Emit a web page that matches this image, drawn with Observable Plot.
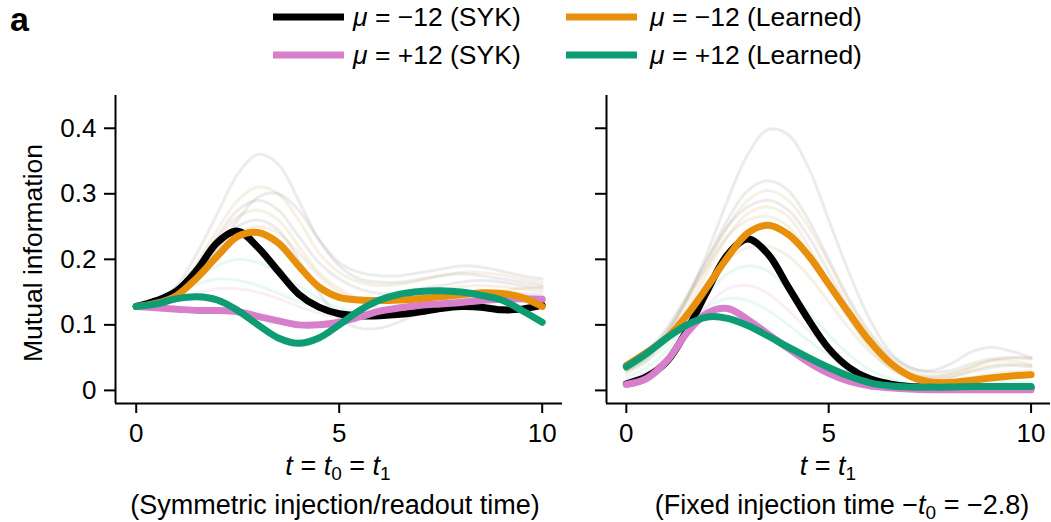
<!DOCTYPE html>
<html>
<head>
<meta charset="utf-8">
<script src="https://cdn.jsdelivr.net/npm/d3@7"></script>
<script src="https://cdn.jsdelivr.net/npm/@observablehq/plot@0.6"></script>
<style>
  html, body { margin: 0; padding: 0; background: #fff; }
  #root { position: relative; width: 1051px; height: 522px; overflow: hidden;
          font-family: "Liberation Sans", Arial, Helvetica, sans-serif; color: #000; }
  #overlay { pointer-events: none; }
</style>
</head>
<body>
<div id="root"></div>
<script>
// ---------- data ----------
const tGrid = [0, 0.5, 1, 1.5, 2, 2.5, 3, 3.5, 4, 4.5, 5, 5.5, 6, 6.5, 7, 7.5, 8, 8.5, 9, 9.5, 10];

const seriesNames = ["μ = −12 (SYK)", "μ = +12 (SYK)", "μ = −12 (Learned)", "μ = +12 (Learned)"];
const seriesColors = ["#000000", "#d77fca", "#e8900c", "#0e9c75"];

// Left panel: symmetric injection/readout time
const leftSykMinus    = [0.128, 0.137, 0.152, 0.184, 0.226, 0.243, 0.218, 0.182, 0.147, 0.127, 0.117, 0.114, 0.114, 0.116, 0.120, 0.125, 0.128, 0.127, 0.123, 0.124, 0.130];
const leftSykPlus     = [0.128, 0.126, 0.124, 0.122, 0.122, 0.120, 0.113, 0.106, 0.100, 0.100, 0.104, 0.112, 0.121, 0.126, 0.130, 0.132, 0.134, 0.137, 0.139, 0.140, 0.139];
const leftLearnMinus  = [0.128, 0.133, 0.145, 0.172, 0.205, 0.235, 0.241, 0.225, 0.190, 0.158, 0.142, 0.138, 0.137, 0.138, 0.140, 0.143, 0.146, 0.149, 0.148, 0.142, 0.128];
const leftLearnPlus   = [0.128, 0.132, 0.140, 0.143, 0.138, 0.122, 0.100, 0.080, 0.072, 0.080, 0.100, 0.122, 0.138, 0.147, 0.151, 0.152, 0.150, 0.145, 0.138, 0.122, 0.104];

// Right panel: fixed injection time -t0 = -2.8
const rightSykMinus   = [0.010, 0.021, 0.044, 0.092, 0.152, 0.207, 0.231, 0.208, 0.158, 0.108, 0.064, 0.035, 0.018, 0.010, 0.006, 0.005, 0.005, 0.004, 0.004, 0.004, 0.004];
const rightSykPlus    = [0.009, 0.018, 0.045, 0.088, 0.118, 0.125, 0.108, 0.086, 0.064, 0.043, 0.026, 0.014, 0.007, 0.004, 0.002, 0.001, 0.001, 0.001, 0.001, 0.001, 0.001];
const rightLearnMinus = [0.038, 0.058, 0.080, 0.115, 0.158, 0.203, 0.240, 0.252, 0.238, 0.206, 0.162, 0.118, 0.076, 0.043, 0.022, 0.013, 0.012, 0.015, 0.019, 0.022, 0.024];
const rightLearnPlus  = [0.036, 0.056, 0.080, 0.100, 0.112, 0.110, 0.099, 0.083, 0.066, 0.050, 0.035, 0.022, 0.012, 0.007, 0.005, 0.005, 0.005, 0.006, 0.006, 0.006, 0.006];

// faint ensemble curves (left)
const leftFaintA = [0.128, 0.135, 0.160, 0.210, 0.270, 0.330, 0.360, 0.345, 0.290, 0.230, 0.190, 0.170, 0.165, 0.165, 0.170, 0.175, 0.178, 0.175, 0.170, 0.165, 0.160];
const leftFaintB = [0.128, 0.134, 0.155, 0.195, 0.245, 0.290, 0.310, 0.300, 0.260, 0.210, 0.180, 0.165, 0.160, 0.162, 0.168, 0.175, 0.180, 0.180, 0.176, 0.170, 0.165];
const leftFaintC = [0.128, 0.133, 0.152, 0.190, 0.235, 0.275, 0.290, 0.275, 0.235, 0.195, 0.170, 0.155, 0.148, 0.150, 0.155, 0.160, 0.165, 0.168, 0.165, 0.160, 0.155];
const leftFaintD = [0.128, 0.133, 0.150, 0.185, 0.230, 0.265, 0.275, 0.260, 0.220, 0.180, 0.155, 0.140, 0.135, 0.138, 0.145, 0.152, 0.158, 0.160, 0.158, 0.155, 0.150];
const leftFaintE = [0.128, 0.132, 0.148, 0.180, 0.220, 0.250, 0.260, 0.245, 0.200, 0.150, 0.110, 0.095, 0.095, 0.105, 0.120, 0.135, 0.145, 0.150, 0.150, 0.148, 0.145];
const leftFaintF = [0.128, 0.132, 0.147, 0.175, 0.215, 0.260, 0.295, 0.300, 0.275, 0.230, 0.195, 0.180, 0.175, 0.175, 0.180, 0.185, 0.190, 0.188, 0.182, 0.175, 0.170];
const leftFaintG = [0.128, 0.133, 0.150, 0.180, 0.215, 0.240, 0.250, 0.240, 0.210, 0.175, 0.150, 0.135, 0.125, 0.120, 0.122, 0.130, 0.140, 0.148, 0.152, 0.155, 0.158];
const leftFaintH = [0.128, 0.135, 0.150, 0.170, 0.190, 0.200, 0.195, 0.180, 0.160, 0.140, 0.125, 0.120, 0.120, 0.125, 0.130, 0.135, 0.138, 0.140, 0.140, 0.138, 0.135];
const leftFaintI = [0.128, 0.135, 0.148, 0.162, 0.170, 0.168, 0.160, 0.148, 0.135, 0.125, 0.118, 0.118, 0.122, 0.130, 0.138, 0.145, 0.148, 0.148, 0.145, 0.140, 0.135];
const leftFaintJ = [0.128, 0.130, 0.138, 0.148, 0.155, 0.155, 0.150, 0.140, 0.128, 0.118, 0.112, 0.112, 0.118, 0.126, 0.133, 0.138, 0.140, 0.140, 0.138, 0.136, 0.135];

// faint ensemble curves (right)
const rightFaintA = [0.030, 0.050, 0.085, 0.140, 0.210, 0.290, 0.360, 0.398, 0.390, 0.340, 0.260, 0.180, 0.110, 0.060, 0.035, 0.030, 0.040, 0.058, 0.066, 0.060, 0.050];
const rightFaintB = [0.035, 0.055, 0.090, 0.140, 0.200, 0.260, 0.305, 0.320, 0.305, 0.260, 0.200, 0.140, 0.090, 0.055, 0.035, 0.028, 0.030, 0.040, 0.048, 0.050, 0.048];
const rightFaintC = [0.030, 0.050, 0.085, 0.135, 0.190, 0.250, 0.290, 0.305, 0.290, 0.250, 0.195, 0.135, 0.085, 0.050, 0.030, 0.022, 0.025, 0.035, 0.045, 0.045, 0.040];
const rightFaintD = [0.040, 0.060, 0.095, 0.145, 0.200, 0.250, 0.280, 0.290, 0.275, 0.235, 0.180, 0.125, 0.080, 0.045, 0.025, 0.018, 0.020, 0.028, 0.035, 0.038, 0.036];
const rightFaintE = [0.025, 0.045, 0.080, 0.125, 0.180, 0.235, 0.270, 0.280, 0.265, 0.220, 0.165, 0.110, 0.065, 0.035, 0.020, 0.015, 0.020, 0.030, 0.038, 0.040, 0.038];
const rightFaintF = [0.035, 0.055, 0.090, 0.140, 0.190, 0.235, 0.260, 0.265, 0.250, 0.210, 0.160, 0.110, 0.070, 0.040, 0.025, 0.020, 0.025, 0.035, 0.045, 0.050, 0.050];
const rightFaintG = [0.020, 0.035, 0.060, 0.100, 0.145, 0.178, 0.190, 0.182, 0.155, 0.120, 0.085, 0.055, 0.032, 0.018, 0.010, 0.008, 0.008, 0.010, 0.012, 0.013, 0.013];
const rightFaintH = [0.015, 0.028, 0.050, 0.090, 0.130, 0.155, 0.160, 0.148, 0.122, 0.092, 0.062, 0.038, 0.022, 0.012, 0.007, 0.005, 0.005, 0.006, 0.007, 0.008, 0.008];
const rightFaintI = [0.030, 0.045, 0.070, 0.100, 0.127, 0.140, 0.137, 0.122, 0.100, 0.076, 0.054, 0.036, 0.022, 0.013, 0.008, 0.006, 0.006, 0.007, 0.008, 0.008, 0.008];
const rightFaintJ = [0.030, 0.050, 0.080, 0.120, 0.165, 0.200, 0.218, 0.220, 0.205, 0.175, 0.135, 0.095, 0.060, 0.035, 0.020, 0.015, 0.015, 0.020, 0.025, 0.028, 0.030];

const faintColors = ["#8a8a8a", "#c9a060", "#6fd3bb", "#e39ad8"];

const xTickValues = [0, 5, 10];
const yTickValues = [0, 0.1, 0.2, 0.3, 0.4];
const yDomain = [-0.02, 0.45];
const leftXDomain = [-0.51, 10.5];
const rightXDomain = [-0.49, 10.48];

// ---------- helpers ----------
const FONT = '"Liberation Sans", Arial, Helvetica, sans-serif';
const FS = 26;

function rows(vals, id, color) {
  return tGrid.map((t, i) => ({t, v: vals[i], id, color}));
}

function panel({main, faint, xDomain, width, marginLeft, marginRight, showYLabels}) {
  const faintRows = faint.flatMap(([vals, c], k) => rows(vals, "f" + k, c));
  const mainRows = [0, 1, 2, 3].flatMap(k => rows(main[k], seriesNames[k], seriesColors[k]));
  return Plot.plot({
    width, height: 368,
    marginTop: 15, marginBottom: 45, marginLeft, marginRight,
    x: {domain: xDomain},
    y: {domain: yDomain},
    style: {fontFamily: FONT, fontSize: FS + "px", color: "#000", background: "transparent", overflow: "visible"},
    marks: [
      Plot.lineY(faintRows, {x: "t", y: "v", z: "id", stroke: "color", strokeOpacity: 0.16, strokeWidth: 3, curve: "catmull-rom"}),
      Plot.lineY(mainRows, {x: "t", y: "v", z: "id", stroke: "color", strokeWidth: 7, curve: "catmull-rom"}),
      Plot.axisX({ticks: xTickValues, tickSize: 10, tickPadding: 10, strokeWidth: 2, label: null, tickFormat: d => String(d)}),
      Plot.axisY({ticks: yTickValues, tickSize: 11, tickPadding: 8, strokeWidth: 2, label: null,
                  tickFormat: showYLabels ? (d => String(d)) : (() => "")}),
      Plot.ruleX([xDomain[0]], {stroke: "#000", strokeWidth: 2}),
      Plot.ruleY([yDomain[0]], {stroke: "#000", strokeWidth: 2})
    ]
  });
}

const root = document.getElementById("root");

const left = panel({
  main: [leftSykMinus, leftSykPlus, leftLearnMinus, leftLearnPlus],
  faint: [[leftFaintA, faintColors[0]], [leftFaintB, faintColors[1]], [leftFaintC, faintColors[0]], [leftFaintD, faintColors[1]],
          [leftFaintE, faintColors[0]], [leftFaintF, faintColors[0]], [leftFaintG, faintColors[1]],
          [leftFaintH, faintColors[2]], [leftFaintI, faintColors[2]], [leftFaintJ, faintColors[3]]],
  xDomain: leftXDomain, width: 565, marginLeft: 115, marginRight: 3, showYLabels: true
});
left.style.position = "absolute"; left.style.left = "0px"; left.style.top = "80px";
root.appendChild(left);

const right = panel({
  main: [rightSykMinus, rightSykPlus, rightLearnMinus, rightLearnPlus],
  faint: [[rightFaintA, faintColors[0]], [rightFaintB, faintColors[0]], [rightFaintC, faintColors[1]], [rightFaintD, faintColors[0]],
          [rightFaintE, faintColors[1]], [rightFaintF, faintColors[1]], [rightFaintG, faintColors[2]],
          [rightFaintH, faintColors[3]], [rightFaintI, faintColors[2]], [rightFaintJ, faintColors[1]]],
  xDomain: rightXDomain, width: 491, marginLeft: 46, marginRight: 1, showYLabels: false
});
right.style.position = "absolute"; right.style.left = "560px"; right.style.top = "80px";
root.appendChild(right);

// ---------- overlay texts & legend ----------
const NS = "http://www.w3.org/2000/svg";
const ov = document.createElementNS(NS, "svg");
ov.setAttribute("id", "overlay");
ov.setAttribute("width", 1051); ov.setAttribute("height", 522);
ov.style.position = "absolute"; ov.style.left = "0px"; ov.style.top = "0px";
ov.setAttribute("font-family", FONT);
root.appendChild(ov);

function text(x, y, parts, opts = {}) {
  const size = opts.size || FS;
  const el = document.createElementNS(NS, "text");
  el.setAttribute("x", x); el.setAttribute("y", y);
  el.setAttribute("font-size", size);
  el.setAttribute("text-anchor", opts.anchor || "start");
  if (opts.weight) el.setAttribute("font-weight", opts.weight);
  if (opts.transform) el.setAttribute("transform", opts.transform);
  for (const p of parts) {
    const ts = document.createElementNS(NS, "tspan");
    ts.textContent = p.s;
    if (p.i) ts.setAttribute("font-style", "italic");
    if (p.sub) { ts.setAttribute("baseline-shift", "-28%"); ts.setAttribute("font-size", Math.round(size * 0.72)); }
    el.appendChild(ts);
  }
  ov.appendChild(el);
  return el;
}
function swatch(x1, x2, y, color) {
  const l = document.createElementNS(NS, "line");
  l.setAttribute("x1", x1); l.setAttribute("x2", x2); l.setAttribute("y1", y); l.setAttribute("y2", y);
  l.setAttribute("stroke", color); l.setAttribute("stroke-width", 7);
  ov.appendChild(l);
}

// panel label
text(10, 31, [{s: "a"}], {size: 34, weight: "bold"});

// legend (2 x 2): column 1 = SYK, column 2 = Learned
const legendCols = [{x1: 273, x2: 344, tx: 353}, {x1: 566, x2: 637, tx: 650}];
const legendRows = [17, 55];
const legendPos = [[0, 0], [0, 1], [1, 0], [1, 1]]; // [col, row] for each series
seriesNames.forEach((name, k) => {
  const [c, r] = legendPos[k];
  const col = legendCols[c], y = legendRows[r];
  swatch(col.x1, col.x2, y, seriesColors[k]);
  text(col.tx, y + 9, [{s: "μ", i: true}, {s: name.slice(1)}], {size: 26.5});
});

// y-axis title
text(42, 253, [{s: "Mutual information"}], {anchor: "middle", size: 26.5, transform: "rotate(-90 42 253)"});

// x-axis titles
text(338, 475, [{s: "t", i: true}, {s: " = "}, {s: "t", i: true}, {s: "0", sub: true}, {s: " = "}, {s: "t", i: true}, {s: "1", sub: true}], {anchor: "middle", size: 27});
text(335, 514, [{s: "(Symmetric injection/readout time)"}], {anchor: "middle", size: 27});
text(828, 475, [{s: "t", i: true}, {s: " = "}, {s: "t", i: true}, {s: "1", sub: true}], {anchor: "middle", size: 27});
text(842, 514, [{s: "(Fixed injection time −"}, {s: "t", i: true}, {s: "0", sub: true}, {s: " = −2.8)"}], {anchor: "middle", size: 27});
</script>
</body>
</html>
